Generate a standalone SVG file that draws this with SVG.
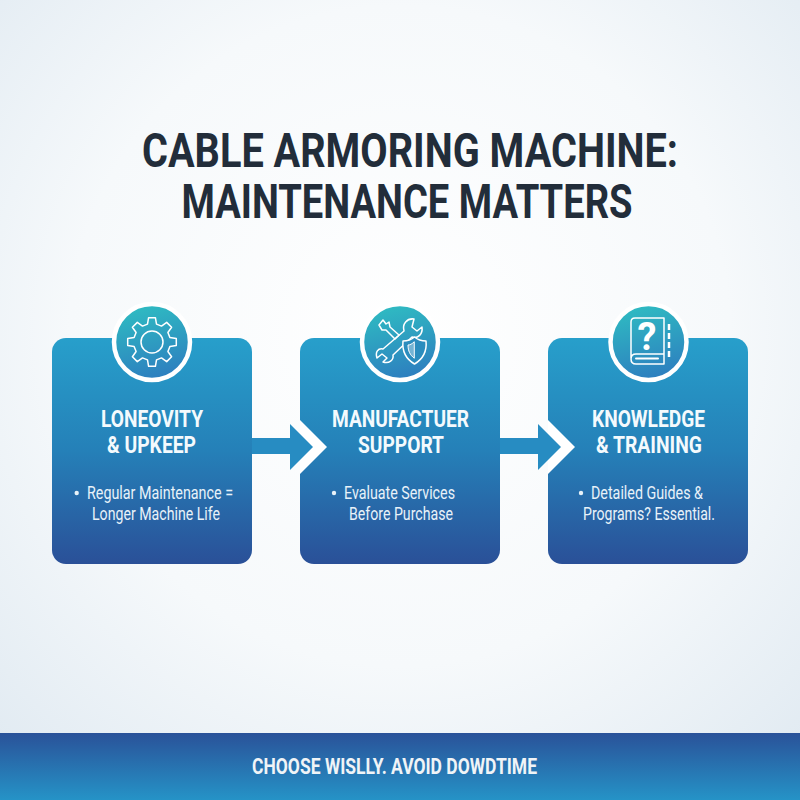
<svg xmlns="http://www.w3.org/2000/svg" width="800" height="800" viewBox="0 0 800 800">
<defs>
<radialGradient id="bg" cx="50%" cy="42%" r="75%"><stop offset="0" stop-color="#ffffff"/><stop offset="0.55" stop-color="#f6f9fb"/><stop offset="1" stop-color="#dfe9f1"/></radialGradient>
<linearGradient id="card" x1="0" y1="0" x2="0" y2="1"><stop offset="0" stop-color="#279fcb"/><stop offset="0.5" stop-color="#2580b8"/><stop offset="1" stop-color="#2a5098"/></linearGradient>
<linearGradient id="badge" x1="0.35" y1="0" x2="0.6" y2="1"><stop offset="0" stop-color="#2fbcc2"/><stop offset="1" stop-color="#2d7dbf"/></linearGradient>
<linearGradient id="band" x1="0" y1="0" x2="0" y2="1"><stop offset="0" stop-color="#2a5299"/><stop offset="1" stop-color="#2593c7"/></linearGradient>
</defs>
<style>
text{font-family:"Roboto","Liberation Sans",sans-serif;text-anchor:middle}
.t{font-size:48px;font-weight:700;fill:#222d3a}
.h{font-size:24px;font-weight:700;fill:#f4fafd}
.b{font-size:17.5px;fill:#e8f2f9}
.card{fill:url(#card)}
.ring{fill:url(#badge);stroke:#fff;stroke-width:4.500}
.ic{fill:none;stroke:#fff;stroke-width:1.500;stroke-linejoin:round;stroke-linecap:round}
.a{fill:#278cc2}
.w{fill:#fff}
.dot{fill:#e8f2f9}
</style>
<rect width="800" height="800" fill="url(#bg)"/>
<g id="title">
<text class="t" x="410" y="167" textLength="536" lengthAdjust="spacingAndGlyphs">CABLE ARMORING MACHINE:</text>
<text class="t" x="407" y="218" textLength="451" lengthAdjust="spacingAndGlyphs">MAINTENANCE MATTERS</text>
</g>
<g id="node1">
<rect class="card" x="52" y="338" width="200" height="226" rx="14"/>
<circle class="ring" cx="152" cy="342" r="38"/>
<g class="ic" transform="translate(152 342)">
<circle r="11"/>
<path d="M-4.500-17.900L-3.400-24.300L3.400-24.300L4.500-17.900L9.500-15.900L14.700-19.600L19.600-14.700L15.900-9.500L17.900-4.500L24.300-3.400L24.300 3.400L17.900 4.500L15.900 9.500L19.600 14.700L14.700 19.600L9.500 15.900L4.500 17.900L3.400 24.300L-3.400 24.300L-4.500 17.900L-9.500 15.900L-14.700 19.600L-19.600 14.700L-15.900 9.500L-17.900 4.500L-24.300 3.400L-24.300-3.400L-17.900-4.500L-15.900-9.500L-19.600-14.700L-14.700-19.600L-9.500-15.900Z"/>
</g>
<text class="h" x="152" y="427" textLength="102" lengthAdjust="spacingAndGlyphs">LONEOVITY</text>
<text class="h" x="151.500" y="453" textLength="89" lengthAdjust="spacingAndGlyphs">&amp; UPKEEP</text>
<circle class="dot" cx="76.700" cy="493" r="2.200"/>
<text class="b" x="160" y="499" textLength="146" lengthAdjust="spacingAndGlyphs">Regular Maintenance =</text>
<text class="b" x="156" y="520" textLength="128" lengthAdjust="spacingAndGlyphs">Longer Machine Life</text>
</g>
<g id="node2">
<rect class="card" x="300" y="338" width="200" height="226" rx="14"/>
<circle class="ring" cx="400" cy="342" r="38"/>
<g class="ic">
<path d="M379 325L383 320L386 324L389 322L390 327L399 335L395 339L386 330L382 330Z"/>
<path d="M414 319C407 318 402 324 404 331L383 349C378 348 375 352 377 358L382 354L387 358L383 362C389 364 394 360 393 355L412 337C418 339 423 334 422 327L417 331L412 327Z"/>
<path d="M414.500 337C418 340 422 341 426 341C427 351 423 359 414.500 364C406 359 402 351 403 341C407 341 411 340 414.500 337Z" fill="#2b8dbe"/>
<path d="M414 342C412 344 410 345 408 345C408 351 410 355 414 358Z" fill="#fff" fill-opacity="0.35" stroke-width="1"/>
</g>
<text class="h" x="400.500" y="427" textLength="137" lengthAdjust="spacingAndGlyphs">MANUFACTUER</text>
<text class="h" x="401" y="453" textLength="86" lengthAdjust="spacingAndGlyphs">SUPPORT</text>
<circle class="dot" cx="334" cy="493" r="2.200"/>
<text class="b" x="399.500" y="499" textLength="111" lengthAdjust="spacingAndGlyphs">Evaluate Services</text>
<text class="b" x="401" y="520" textLength="104" lengthAdjust="spacingAndGlyphs">Before Purchase</text>
</g>
<g id="node3">
<rect class="card" x="548" y="338" width="200" height="226" rx="14"/>
<circle class="ring" cx="648.500" cy="342" r="38"/>
<g class="ic">
<path d="M631 358V322Q631 318 635 318H664V364H636Q631 364 631 359Q631 354 636 354H664"/>
<path d="M636 358.500H658" stroke-width="2"/>
<path d="M669 324V357" stroke-dasharray="6 3" stroke-width="2.500" stroke-linecap="butt"/>
</g>
<text x="647" y="350" font-size="38" font-weight="700" fill="#fff">?</text>
<text class="h" x="648.500" y="427" textLength="113" lengthAdjust="spacingAndGlyphs">KNOWLEDGE</text>
<text class="h" x="649" y="453" textLength="106" lengthAdjust="spacingAndGlyphs">&amp; TRAINING</text>
<circle class="dot" cx="581" cy="493" r="2.200"/>
<text class="b" x="647" y="499" textLength="112" lengthAdjust="spacingAndGlyphs">Detailed Guides &amp;</text>
<text class="b" x="649" y="520" textLength="132" lengthAdjust="spacingAndGlyphs">Programs? Essential.</text>
</g>
<g id="connectors">
<path class="w" d="M300 420L327 447L300 474Z"/>
<path class="a" d="M252 438H290V424L313 447L290 470V454H252Z"/>
<path class="w" d="M548 420L575 447L548 474Z"/>
<path class="a" d="M500 438H538V424L561 447L538 470V454H500Z"/>
</g>
<g id="footer">
<rect y="733" width="800" height="67" fill="url(#band)"/>
<text x="394.500" y="774" font-size="22" font-weight="700" fill="#f0f4f7" textLength="285" lengthAdjust="spacingAndGlyphs">CHOOSE WISLLY. AVOID DOWDTIME</text>
</g>
</svg>
